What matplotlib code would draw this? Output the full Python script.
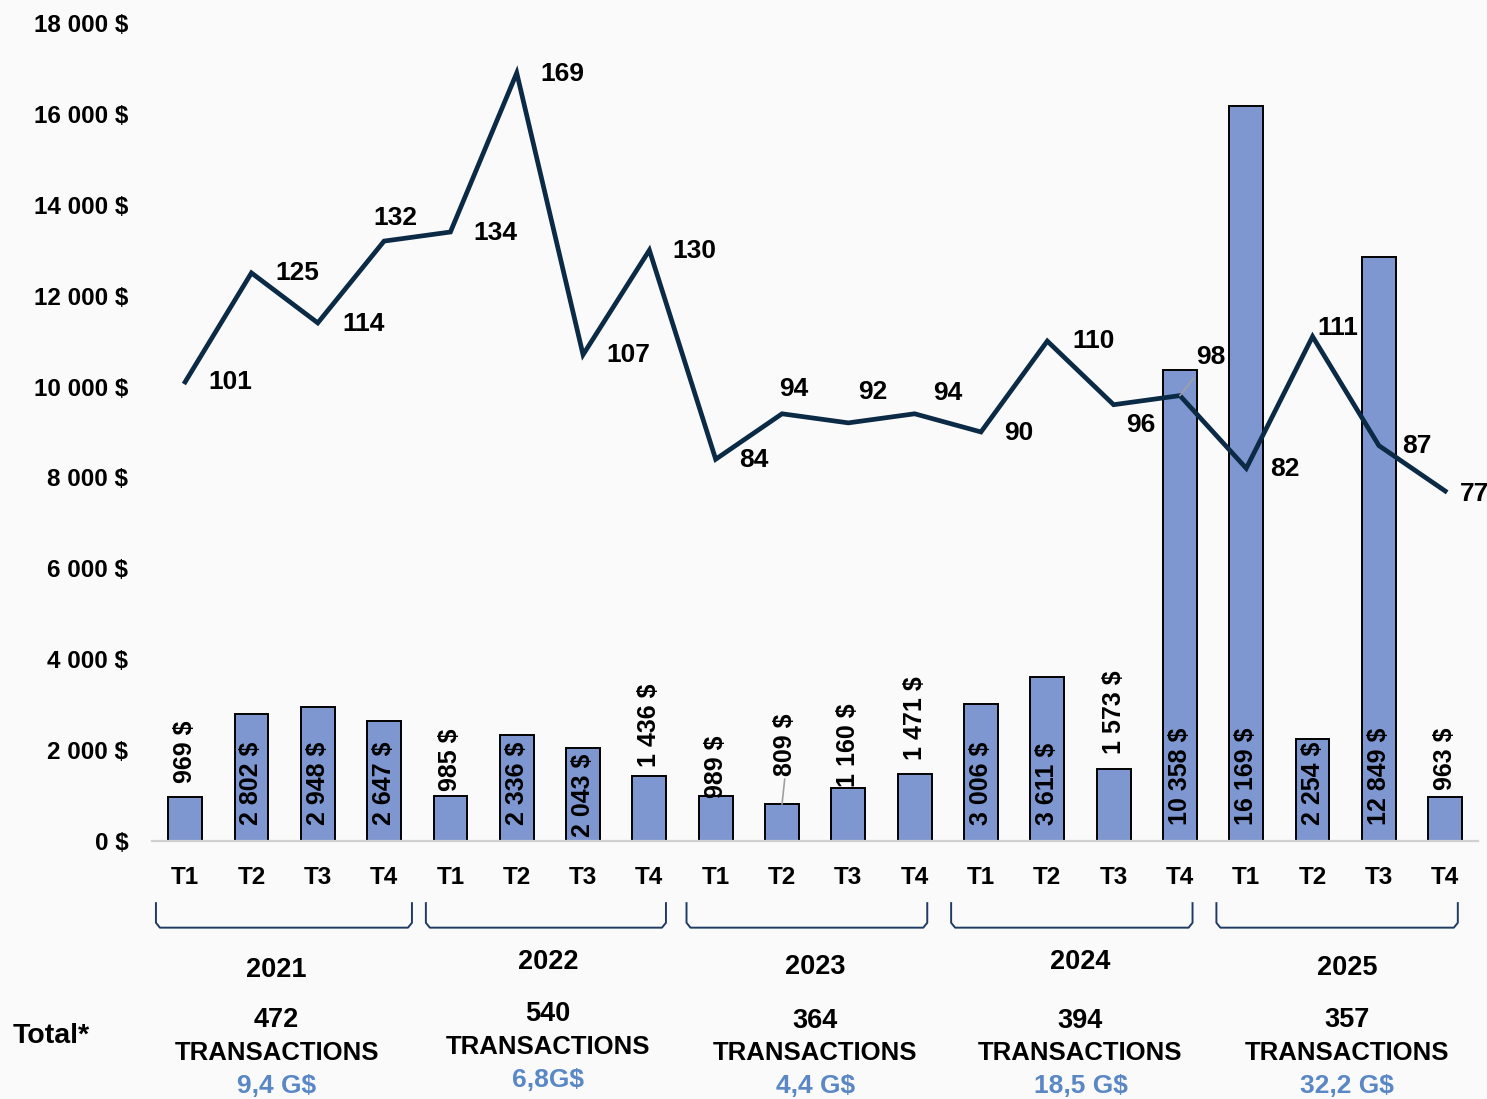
import matplotlib.pyplot as plt
from matplotlib.ticker import FuncFormatter, MultipleLocator
from matplotlib.transforms import blended_transform_factory

plt.rcParams["font.family"] = ["Liberation Sans", "DejaVu Sans"]
plt.rcParams["font.weight"] = "bold"

# --- données -------------------------------------------------------------
quarters = ["T1", "T2", "T3", "T4"] * 5
years = ["2021", "2022", "2023", "2024", "2025"]
valeurs = [969, 2802, 2948, 2647, 985, 2336, 2043, 1436,
           989, 809, 1160, 1471, 3006, 3611, 1573, 10358,
           16169, 2254, 12849, 963]
nb_transactions = [101, 125, 114, 132, 134, 169, 107, 130,
                   84, 94, 92, 94, 90, 110, 96, 98,
                   82, 111, 87, 77]
total_transactions = [472, 540, 364, 394, 357]
total_valeur = ["9,4 G$", "6,8G$", "4,4 G$", "18,5 G$", "32,2 G$"]

# --- mise en forme ---------------------------------------------------------
BG = "#FAFAFA"
BAR = "#7F97D1"
LINE = "#0B2A45"
BRACKET = "#1F3B63"
BLUE_TXT = "#5A87C5"
PX = 0.72  # pixels -> points (dpi 100)

# décalage vertical (px) des étiquettes de barres ; intérieures si valeur >= 2000
bar_dy = [14, 16, 16, 16, 5, 16, 4, 9, -2, 28, 1, 14,
          16, 16, 15, 16, 16, 16, 16, 7]
# décalage (px, y vers le bas) des étiquettes de la courbe
line_off = [(45, 0), (46, 0), (46, 1), (11, -23), (45, 1), (46, 1), (45, 0),
            (45, 1), (38, 1), (12, -25), (24, -31), (33, -21), (38, 1),
            (46, 0), (27, 20), (31, -39), (39, 1), (25, -9), (38, 0), (29, 3)]

fig = plt.figure(figsize=(14.87, 10.99), dpi=100, facecolor=BG)
ax = fig.add_axes([0.1022, 0.2348, 0.8920, 0.7443])
ax.set_facecolor(BG)

x = list(range(len(valeurs)))
ax.bar(x, valeurs, width=0.51, color=BAR, edgecolor="black", linewidth=1.4, zorder=2)
ax.set_xlim(-0.5, 19.5)
ax.set_ylim(0, 18000)
ax.yaxis.set_major_locator(MultipleLocator(2000))
ax.yaxis.set_major_formatter(
    FuncFormatter(lambda v, _: f"{v:,.0f}".replace(",", " ") + " $"))
ax.set_xticks(x)
ax.set_xticklabels(quarters)
ax.tick_params(axis="y", length=0, pad=17, labelsize=17.5)
ax.tick_params(axis="x", length=0, pad=18, labelsize=17.5)
for s in ["top", "right", "left"]:
    ax.spines[s].set_visible(False)
ax.spines["bottom"].set_color("#D0D0D0")
ax.spines["bottom"].set_linewidth(1.6)

for i, v in enumerate(valeurs):
    txt = f"{v:,}".replace(",", " ") + " $"
    if v >= 2000:
        ax.annotate(txt, (i, 0), xytext=(0, bar_dy[i] * PX), textcoords="offset points",
                    rotation=90, ha="center", va="bottom", fontsize=18, zorder=4)
    else:
        kw = {}
        if bar_dy[i] > 20:
            kw["arrowprops"] = dict(arrowstyle="-", color="#A0A0A0", lw=1.2,
                                    shrinkA=0, shrinkB=0, relpos=(0.5, 0))
        ax.annotate(txt, (i, v), xytext=(3 * PX if kw else 0, bar_dy[i] * PX),
                    textcoords="offset points", rotation=90, ha="center",
                    va="bottom", fontsize=18, zorder=4, **kw)

ax2 = ax.twinx()
ax2.set_ylim(0, 180)
ax2.axis("off")
ax2.plot(x, nb_transactions, color=LINE, linewidth=3.4, solid_joinstyle="miter", zorder=3)
for i, n in enumerate(nb_transactions):
    dx, dy = line_off[i]
    kw = {}
    if i == 15:
        kw["arrowprops"] = dict(arrowstyle="-", color="#A0A0A0", lw=1.2,
                                shrinkA=6, shrinkB=0)
    ax2.annotate(str(n), (i, n), xytext=(dx * PX, -dy * PX), textcoords="offset points",
                 ha="center", va="center", fontsize=19, annotation_clip=False, **kw)

# accolades et totaux annuels
tr = ax.get_xaxis_transform()
tf = blended_transform_factory(ax.transData, fig.transFigure)
bracket_x = [(-0.44, 3.42), (3.63, 7.25), (7.56, 11.19), (11.55, 15.19), (15.55, 19.19)]
centres = [1.38, 5.47, 9.5, 13.5, 17.52]
y_year = [970, 962, 967, 962, 968]
y_count = [1020, 1014, 1021, 1021, 1020]
y_tx = [1053, 1047, 1053, 1053, 1053]
y_val = [1086, 1080, 1086, 1086, 1086]
H = 1099
for g in range(5):
    x0, x1 = bracket_x[g]
    ax.plot([x0, x0, x0 + 0.06, x1 - 0.06, x1, x1],
            [-0.076, -0.100, -0.106, -0.106, -0.100, -0.076],
            transform=tr, color=BRACKET, linewidth=1.4, clip_on=False)
    c = centres[g]
    ax.text(c, 1 - y_year[g] / H, years[g], transform=tf, ha="center", va="center",
            fontsize=19.5)
    ax.text(c, 1 - y_count[g] / H, str(total_transactions[g]), transform=tf,
            ha="center", va="center", fontsize=19.5)
    ax.text(c, 1 - y_tx[g] / H, "TRANSACTIONS", transform=tf, ha="center", va="center",
            fontsize=18.5)
    ax.text(c, 1 - y_val[g] / H, total_valeur[g], transform=tf, ha="center", va="center",
            fontsize=19, color=BLUE_TXT)

fig.text(13 / 1487, 1 - 1036 / H, "Total*", ha="left", va="center", fontsize=20.5)

fig.savefig("out.png", dpi=100, facecolor=BG)
